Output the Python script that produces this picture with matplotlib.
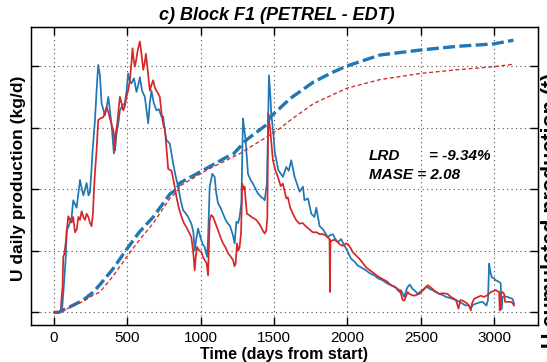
import matplotlib
matplotlib.use("Agg")
import matplotlib.pyplot as plt

plt.rcParams["font.family"] = ["Liberation Sans", "DejaVu Sans"]

# --------------------------
# Data (y in grid units 0..4)
# --------------------------
blue_days = [0, 40, 55, 68, 80, 86, 100, 120, 131, 154, 177, 190, 200, 222, 235, 245, 255,
             263, 279, 290, 301, 313, 324, 335, 347, 360, 370, 380, 392, 408, 418, 426, 440,
             449, 465, 483, 495, 505, 517, 528, 545, 562, 575, 585, 600, 619, 630, 642, 653,
             664, 680, 698, 715, 732, 744, 755, 766, 778, 789, 812, 830, 846, 865, 880, 900,
             914, 936, 950, 959, 970, 982, 995, 1004, 1015, 1027, 1043, 1050, 1061, 1079,
             1095, 1105, 1118, 1135, 1152, 1170, 1186, 1200, 1209, 1220, 1231, 1243, 1255,
             1265, 1277, 1288, 1295, 1306, 1315, 1322, 1340, 1356, 1375, 1390, 1413, 1425,
             1436, 1451, 1458, 1465, 1475, 1481, 1495, 1505, 1529, 1560, 1583, 1600, 1617,
             1640, 1674, 1697, 1707, 1731, 1754, 1775, 1788, 1810, 1833, 1866, 1880, 1900,
             1915, 1934, 1957, 1975, 1991, 2025, 2050, 2070, 2100, 2127, 2155, 2184, 2210,
             2240, 2270, 2297, 2330, 2354, 2365, 2388, 2400, 2410, 2425, 2444, 2460, 2478,
             2495, 2512, 2530, 2546, 2560, 2580, 2600, 2626, 2650, 2671, 2690, 2716, 2740,
             2762, 2785, 2807, 2825, 2841, 2855, 2875, 2900, 2921, 2935, 2948, 2958, 2966,
             2975, 2984, 3000, 3011, 3030, 3045, 3050, 3057, 3075, 3091, 3110, 3125, 3136]
blue_daily = [0, 0, 0.05, 0.47, 0.9, 1.33, 1.4, 1.55, 1.82, 1.7, 2.15, 2.0, 1.9, 2.1, 1.9, 1.95, 2.3,
              2.63, 3.12, 3.6, 4.02, 3.85, 3.4, 3.3, 3.2, 3.35, 3.5, 3.3, 3.05, 2.58, 2.7, 2.9, 3.1,
              3.28, 3.35, 3.4, 3.6, 3.88, 3.75, 3.72, 3.8, 3.58, 3.7, 3.82, 3.6, 3.5, 3.3, 3.07, 3.4,
              3.6, 3.4, 3.28, 3.3, 3.18, 3.18, 2.96, 2.8, 2.77, 2.74, 2.42, 2.2, 2.04, 1.8, 1.66, 1.6,
              1.55, 1.44, 1.3, 1.0, 1.2, 1.36, 1.25, 1.17, 1.1, 1.06, 0.9, 1.2, 2.04, 2.25,
              2.2, 1.95, 1.77, 1.7, 1.6, 1.5, 1.44, 1.4, 1.33, 1.25, 1.12, 1.47, 1.45,
              1.55, 1.77, 3.15, 3.0, 2.8, 2.5, 2.25, 2.15, 2.09, 2.0, 1.93, 1.87, 1.85,
              1.82, 2.09, 2.9, 3.85, 3.5, 3.23, 2.9, 2.6, 2.31, 2.2, 2.36, 2.3, 2.47,
              2.2, 1.96, 2.04, 1.82, 1.85, 1.6, 1.55, 1.7, 1.4, 1.35, 1.22, 1.25, 1.27,
              1.2, 1.14, 1.19, 1.1, 1.04, 0.87, 0.82, 0.76, 0.72, 0.68, 0.63, 0.6, 0.55,
              0.52, 0.47, 0.44, 0.4, 0.33, 0.36, 0.25, 0.35, 0.41, 0.45, 0.38, 0.35, 0.3,
              0.33, 0.36, 0.4, 0.41, 0.38, 0.36, 0.33, 0.3, 0.28, 0.25, 0.24, 0.22, 0.2,
              0.17, 0.14, 0.11, 0.12, 0.06, 0.12, 0.14, 0.16, 0.17, 0.14, 0.11, 0.2, 0.79,
              0.65, 0.57, 0.55, 0.52, 0.5, 0.47, 0.05, 0.25, 0.26, 0.25, 0.23, 0.22, 0.14]

red_days = [0, 45, 52, 58, 63, 70, 82, 90, 97, 108, 120, 130, 143, 155, 166, 177, 188, 200,
            211, 222, 234, 245, 256, 265, 272, 280, 290, 301, 315, 336, 347, 358, 370, 381,
            392, 404, 410, 415, 420, 431, 440, 449, 460, 472, 483, 494, 505, 517, 526, 535,
            543, 551, 560, 570, 585, 596, 608, 618, 626, 640, 653, 665, 676, 687, 698, 710,
            721, 730, 739, 750, 755, 766, 778, 801, 818, 835, 850, 869, 885, 903, 920, 936,
            948, 959, 966, 975, 990, 1004, 1015, 1027, 1040, 1050, 1055, 1061, 1072, 1084,
            1100, 1118, 1135, 1152, 1170, 1186, 1200, 1220, 1230, 1238, 1247, 1256, 1265,
            1275, 1283, 1292, 1299, 1307, 1315, 1330, 1345, 1360, 1379, 1395, 1413, 1425,
            1436, 1447, 1454, 1460, 1474, 1492, 1510, 1526, 1545, 1560, 1583, 1594, 1610,
            1628, 1650, 1673, 1695, 1719, 1740, 1764, 1790, 1810, 1835, 1855, 1878, 1881,
            1884, 1889, 1910, 1934, 1950, 1968, 1990, 2002, 2020, 2036, 2060, 2082, 2105,
            2127, 2155, 2184, 2210, 2240, 2270, 2297, 2320, 2342, 2360, 2376, 2388, 2410,
            2422, 2440, 2456, 2490, 2524, 2546, 2560, 2580, 2600, 2626, 2650, 2682, 2705,
            2727, 2740, 2757, 2770, 2784, 2800, 2818, 2830, 2841, 2850, 2864, 2890, 2909,
            2930, 2948, 2965, 2978, 3000, 3011, 3034, 3038, 3044, 3057, 3068, 3075, 3095,
            3114, 3125, 3136]
red_daily = [0, 0, 0.25, 0.4, 0.9, 0.95, 1.17, 1.4, 1.56, 1.5, 1.46, 1.55, 1.3, 1.35, 1.55, 1.5, 1.64, 1.55,
             1.5, 1.6, 1.55, 1.45, 1.4, 1.6, 1.98, 2.3, 2.63, 3.12, 3.15, 3.17, 3.25, 3.33, 3.25, 3.15,
             3.05, 2.96, 2.8, 2.63, 2.9, 3.07, 3.3, 3.5, 3.4, 3.28, 3.35, 3.5, 3.6, 3.77, 4.0, 4.29,
             4.1, 3.99, 4.1, 4.25, 4.4, 4.2, 3.94, 4.05, 4.2, 3.9, 3.6, 3.7, 3.77, 3.65, 3.6, 3.55,
             3.5, 3.3, 3.12, 3.0, 3.0, 2.68, 2.33, 2.3, 2.1, 1.87, 1.7, 1.55, 1.45, 1.38, 1.3, 1.22,
             1.0, 0.68, 0.9, 1.06, 1.0, 0.98, 0.9, 0.85, 0.8, 0.6, 1.0, 1.5, 1.58, 1.55,
             1.45, 1.33, 1.22, 1.12, 1.05, 0.96, 0.92, 0.85, 0.75, 0.79, 1.12, 1.0, 1.06,
             1.3, 2.09, 2.0, 2.04, 1.8, 1.6, 1.58, 1.55, 1.53, 1.5, 1.45, 1.38, 1.32,
             1.28, 1.33, 1.55, 3.23, 2.96, 2.47, 2.3, 2.2, 2.05, 2.09, 1.85, 1.87, 1.7,
             1.6, 1.5, 1.44, 1.45, 1.39, 1.35, 1.3, 1.3, 1.27, 1.27, 1.24, 1.19, 0.33,
             1.17, 1.16, 1.18, 1.14, 1.1, 1.08, 1.12, 1.11, 1.05, 0.98, 0.92, 0.87, 0.8,
             0.73, 0.68, 0.63, 0.58, 0.54, 0.5, 0.44, 0.42, 0.38, 0.35, 0.2, 0.19, 0.33,
             0.3, 0.28, 0.27, 0.3, 0.38, 0.44, 0.42, 0.38, 0.34, 0.3, 0.31, 0.3, 0.25,
             0.22, 0.2, 0.06, 0.2, 0.19, 0.17, 0.14, 0.1, 0.03, 0.15, 0.22, 0.25, 0.27,
             0.25, 0.27, 0.3, 0.33, 0.35, 0.36, 0.33, 0.03, 0.3, 0.33, 0.3, 0.17, 0.17,
             0.17, 0.15, 0.11]

blue_cum_days = [0, 30, 109, 200, 268, 313, 400, 494, 580, 677, 789, 836, 857, 1018, 1175,
                 1222, 1311, 1450, 1472, 1537, 1608, 1768, 1900, 1995, 2222, 2495, 2745,
                 2995, 3132]
blue_cum = [0, 0, 0.09, 0.2, 0.33, 0.45, 0.7, 1.02, 1.3, 1.55, 1.92, 2.0, 2.1, 2.31, 2.52,
            2.57, 2.8, 3.05, 3.17, 3.31, 3.47, 3.74, 3.9, 4.0, 4.18, 4.26, 4.32, 4.36, 4.42]

red_cum_days = [0, 50, 109, 200, 268, 313, 400, 495, 580, 677, 789, 836, 857, 1040, 1268,
                1450, 1541, 1610, 1768, 1995, 2222, 2495, 2745, 2995, 3132]
red_cum = [0, 0.01, 0.08, 0.18, 0.28, 0.33, 0.58, 0.9, 1.17, 1.45, 1.85, 1.95, 2.05, 2.31,
           2.58, 2.85, 2.99, 3.12, 3.39, 3.64, 3.78, 3.88, 3.94, 3.99, 4.03]

x_ticks = [0, 500, 1000, 1500, 2000, 2500, 3000]
y_ticks = [0, 1, 2, 3, 4]

BLUE = "#1f77b4"
RED = "#d62728"

# --------------------------
# Figure
# --------------------------
W, H = 547, 362
fig = plt.figure(figsize=(W / 100, H / 100), dpi=100)
ax = fig.add_axes([31 / W, (H - 325) / H, (537.7 - 31) / W, (325 - 27.3) / H])

ax.plot(blue_days, blue_daily, color=BLUE, lw=1.25, zorder=3)
ax.plot(red_days, red_daily, color=RED, lw=1.25, zorder=3)

ax.set_xlim(-157, 3297)
ax.set_ylim(-0.206, 4.63)
ax.set_xticks(x_ticks)
ax.set_yticks(y_ticks)
ax.set_yticklabels([])
ax.grid(True, color="0.3", linestyle=(0, (1, 3)), linewidth=0.8)
ax.tick_params(direction="in", length=6, width=1, top=True, labelsize=11, pad=4)
for s in ax.spines.values():
    s.set_linewidth(1.0)

# cumulative production on the right axis
ax2 = ax.twinx()
ax2.plot(blue_cum_days, blue_cum, color=BLUE, lw=2.4, dashes=(3.6, 1.3), zorder=4)
ax2.plot(red_cum_days, red_cum, color=RED, lw=0.95, dashes=(3, 2), zorder=4)
ax2.set_ylim(-0.206, 4.63)
ax2.set_yticks(y_ticks)
ax2.set_yticklabels([])
ax2.tick_params(direction="in", length=6, width=1)

# Stats
ax.text(0.667, 0.568, "LRD", transform=ax.transAxes, fontsize=11,
        fontweight="bold", fontstyle="italic", va="center")
ax.text(0.785, 0.568, "= -9.34%", transform=ax.transAxes, fontsize=11,
        fontweight="bold", fontstyle="italic", va="center")
ax.text(0.667, 0.504, "MASE = 2.08", transform=ax.transAxes, fontsize=11,
        fontweight="bold", fontstyle="italic", va="center")

# Labels
fig.text(277 / W, 1 - 15 / H, "c) Block F1 (PETREL - EDT)", ha="center", va="center",
         fontsize=13, fontweight="bold", fontstyle="italic")
fig.text(284 / W, 3 / H, "Time (days from start)", ha="center", va="baseline",
         fontsize=11.5, fontweight="bold")
fig.text(19 / W, 1 - 178 / H, "U daily production (kg/d)", rotation=90, ha="center",
         va="center", fontsize=12.5, fontweight="bold")
# right label runs off the figure edge, as in the reference
fig.text(541.5 / W, 1 - 210 / H, "U cumulated production (t)", rotation=90, ha="left",
         va="center", fontsize=15.5, fontweight="bold")

fig.savefig("out.png", dpi=100)
plt.close(fig)
